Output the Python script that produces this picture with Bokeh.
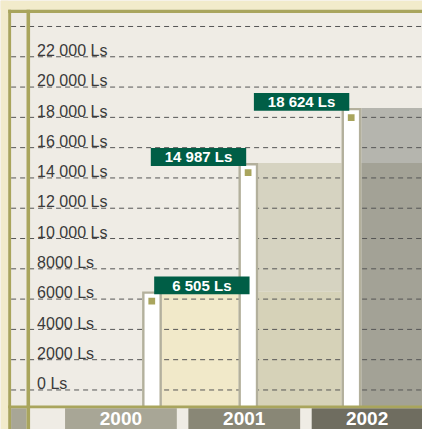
from bokeh.plotting import figure
from bokeh.models import Range1d
from bokeh.core.properties import value
from bokeh.embed import file_html
from bokeh.resources import INLINE

# ---------------- data ----------------
years = ["2000", "2001", "2002"]
amounts = [6505, 14987, 18624]
tick_values = [0, 2000, 4000, 6000, 8000, 10000, 12000, 14000, 16000, 18000, 20000, 22000, 24000]
tick_labels = ["0 Ls", "2000 Ls", "4000 Ls", "6000 Ls", "8000 Ls", "10 000 Ls", "12 000 Ls",
               "14 000 Ls", "16 000 Ls", "18 000 Ls", "20 000 Ls", "22 000 Ls", ""]

# ---------------- layout / style ----------------
W_REF, H_REF = 438, 445           # reference canvas units
Y0_PX = 404                       # reference y of value 0
PX = 31.42 / 2000                 # reference px per unit of value
FONT = value("Liberation Sans")

def v(py):
    """reference-pixel y -> value units"""
    return (Y0_PX - py) / PX

def d(px):
    """pixel distance -> value distance"""
    return px / PX

BAR_LEFT = [147, 247, 354]
BAR_W = 20.5
REGION_UPPER = ["#f1e9c9", "#d6d3c1", "#b5b5ae"]
REGION_LOWER = [None, "#d6d2b8", "#a3a296"]
LABEL_CX = [209, 205.5, 312.5]
LABEL_W, LABEL_H = 99, 18.5
YEAR_LEFT = [67, 195, 323]
YEAR_RIGHT = [183, 311, 438]
YEAR_COL = ["#a8a696", "#898776", "#6f6d60"]

BG = "#efece5"
CREAM = "#f2ebcb"
OLIVE = "#a9a55d"
GREEN = "#005e46"
BAR_EDGE = "#b3b09c"

p = figure(width=422, height=429, output_backend="svg", toolbar_location=None,
           x_range=Range1d(0, W_REF), y_range=Range1d(v(H_REF), v(0)),
           background_fill_color=BG, border_fill_color=BG, min_border=0,
           outline_line_color=None)
p.axis.visible = False
p.grid.visible = False

base = v(421)

# shaded regions to the right of each bar
for i, amt in enumerate(amounts):
    left = BAR_LEFT[i] + BAR_W
    right = BAR_LEFT[i + 1] if i + 1 < len(amounts) else W_REF
    if i == 0:
        p.quad(left=[left], right=[right], bottom=[base], top=[amt],
               fill_color=REGION_UPPER[i], line_color=None)
    else:
        prev = amounts[i - 1]
        p.quad(left=[left], right=[right], bottom=[base], top=[prev],
               fill_color=REGION_LOWER[i], line_color=None)
        p.quad(left=[left], right=[right], bottom=[prev], top=[amt],
               fill_color=REGION_UPPER[i], line_color=None)

# dashed grid lines
p.segment(x0=[11] * len(tick_values), x1=[W_REF] * len(tick_values),
          y0=tick_values, y1=tick_values,
          line_color="#555555", line_width=1, line_dash="5 4")

# white bars with grey edge
bl = BAR_LEFT
br = [x + BAR_W for x in BAR_LEFT]
p.quad(left=bl, right=br, bottom=[base] * 3, top=amounts,
       fill_color=BAR_EDGE, line_color=None)
p.quad(left=[x + 2.5 for x in bl], right=[x - 2.5 for x in br], bottom=[base] * 3,
       top=[a - d(2.5) for a in amounts], fill_color="white", line_color=None)
# small olive squares
p.quad(left=[x + 6.5 for x in bl], right=[x + 13.5 for x in bl],
       top=[a - d(6.5) for a in amounts], bottom=[a - d(13.5) for a in amounts],
       fill_color=OLIVE, line_color=None)

# value labels
lab_text = [f"{a:,}".replace(",", " ") + " Ls" for a in amounts]
lab_bottom = [a - d(3) for a in amounts]
lab_top = [b + d(LABEL_H) for b in lab_bottom]
p.quad(left=[c - LABEL_W / 2 for c in LABEL_CX], right=[c + LABEL_W / 2 for c in LABEL_CX],
       bottom=lab_bottom, top=lab_top, fill_color=GREEN, line_color=None)
p.text(x=LABEL_CX, y=[(b + t) / 2 for b, t in zip(lab_bottom, lab_top)], text=lab_text,
       text_font=FONT, text_font_size="15px", text_font_style="bold",
       text_color="white", text_align="center", text_baseline="middle")

# frame: top band, left strip
p.quad(left=[0], right=[W_REF], top=[v(0)], bottom=[v(9.5)], fill_color=CREAM, line_color=None)
p.quad(left=[0], right=[8], top=[v(0)], bottom=[v(H_REF)], fill_color=CREAM, line_color=None)
p.quad(left=[8], right=[W_REF], top=[v(9.5)], bottom=[v(13)], fill_color=OLIVE, line_color=None)
# bottom band
p.quad(left=[11], right=[W_REF], top=[v(423)], bottom=[v(H_REF)], fill_color=BG, line_color=None)
p.quad(left=[11], right=[27], top=[v(423)], bottom=[v(H_REF)], fill_color=YEAR_COL[0], line_color=None)
p.quad(left=YEAR_LEFT, right=YEAR_RIGHT, top=[v(423)] * 3, bottom=[v(H_REF)] * 3,
       fill_color=YEAR_COL, line_color=None)
p.quad(left=[8], right=[W_REF], top=[v(420)], bottom=[v(423)], fill_color=OLIVE, line_color=None)
# vertical olive lines
p.quad(left=[8, 27], right=[11, 30.7], top=[v(9.5)] * 2, bottom=[v(H_REF)] * 2,
       fill_color=OLIVE, line_color=None)

# year labels
p.text(x=[(l + r) / 2 for l, r in zip(YEAR_LEFT, YEAR_RIGHT)], y=[v(433.5)] * 3, text=years,
       text_font=FONT, text_font_size="19px", text_font_style="bold",
       text_color="white", text_align="center", text_baseline="middle")

# tick labels
p.text(x=[38] * len(tick_values), y=[t + d(6.5) for t in tick_values], text=tick_labels,
       text_font=FONT, text_font_size="16px", text_color="#3a3a3a",
       text_align="left", text_baseline="middle")

open("out.html", "w").write(file_html(p, INLINE))
